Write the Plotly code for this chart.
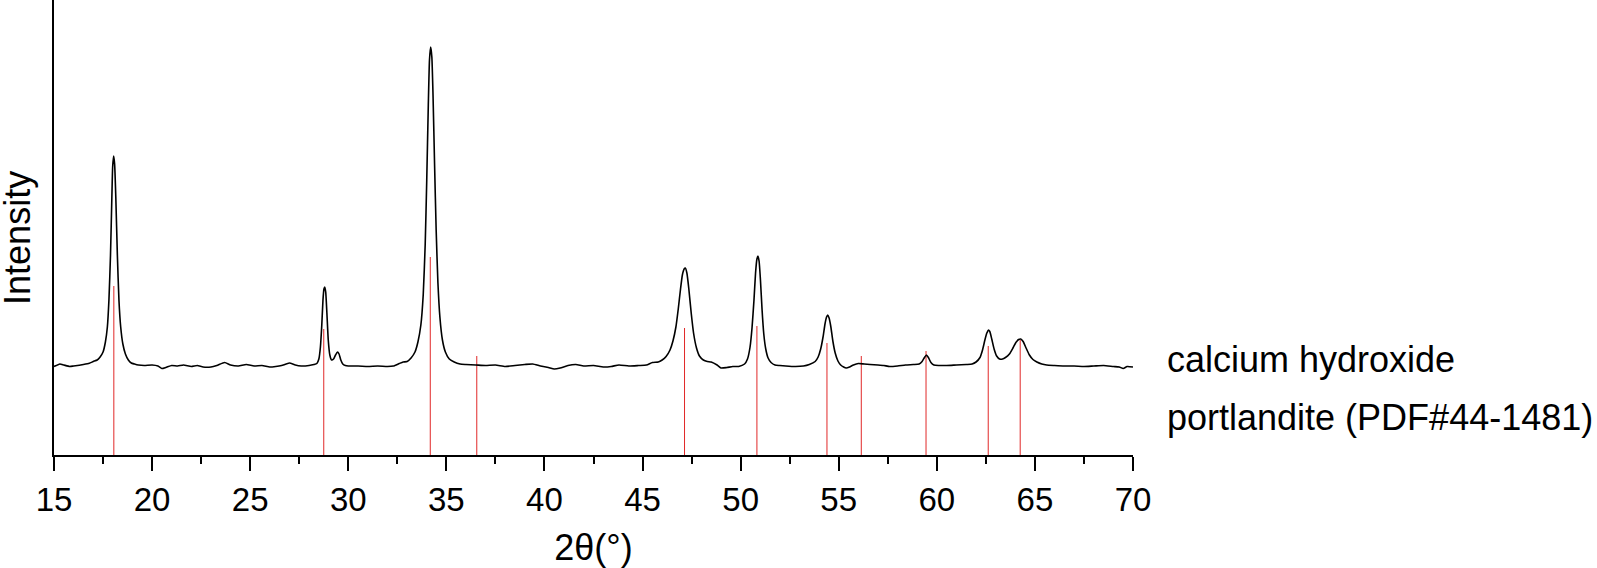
import plotly.graph_objects as go

# ---- measured XRD pattern of calcium hydroxide (values read from the picture) ----
# region by region: 2-theta positions and intensities (a.u.)
x_a = [15.0, 15.3, 15.5, 15.8, 16.0, 16.5, 16.8, 17.0, 17.2]
y_a = [88.5, 91, 90, 88.5, 89, 90.5, 91.7, 93.5, 95]
x_p18 = [17.35, 17.5, 17.62, 17.72, 17.8, 17.88, 17.95, 17.99, 18.04, 18.09, 18.15, 18.23,
         18.31, 18.4, 18.51, 18.64, 18.79, 18.94, 19.1]
y_p18 = [98, 103, 113, 128, 155, 200, 258, 288, 299, 291, 258, 200,
         155, 128, 111, 101, 95, 92, 91]
x_b = [19.3, 19.6, 20.0, 20.3, 20.5, 20.7, 21.0, 21.3, 21.6, 22.0, 22.3, 22.6, 23.0, 23.3,
       23.7, 24.0, 24.4, 24.8, 25.2, 25.6, 26.0, 26.3, 26.6, 27.0, 27.3, 27.6, 28.0, 28.25]
y_b = [90, 89.5, 90, 89, 86.5, 87.5, 89.5, 89, 90, 88.5, 89.5, 88, 88, 89.5,
       92.5, 90, 89, 90.5, 89, 89.5, 88, 88.5, 89.5, 92, 90, 89, 89.5, 90.5]
x_p29 = [28.4, 28.5, 28.58, 28.65, 28.71, 28.76, 28.8, 28.85, 28.91, 28.98, 29.06, 29.15,
         29.25, 29.35, 29.45, 29.53, 29.62, 29.72, 29.85]
y_p29 = [91.5, 96, 108, 130, 155, 166, 168, 163, 142, 115, 100, 95,
         96, 100, 103, 101, 95, 91, 89.5]
x_c = [30.0, 30.5, 31.0, 31.5, 32.0, 32.3, 32.6, 32.8, 33.0]
y_c = [89, 89, 88.5, 89, 88.5, 89, 91.5, 93, 93.5]
x_p34 = [33.2, 33.4, 33.55, 33.7, 33.82, 33.92, 34.0, 34.08, 34.14, 34.2, 34.26, 34.32,
         34.4, 34.48, 34.57, 34.67, 34.8, 34.95, 35.15, 35.4, 35.7]
y_p34 = [97, 103, 113, 130, 160, 210, 275, 350, 395, 408, 398, 360,
         290, 225, 172, 138, 115, 103, 96, 93, 91]
x_d = [36.0, 36.5, 37.0, 37.5, 38.0, 38.5, 39.0, 39.4, 39.8, 40.2, 40.5, 40.8, 41.2, 41.6,
       42.0, 42.5, 43.0, 43.4, 43.8, 44.3, 44.8, 45.2, 45.5]
y_d = [90.5, 90, 89.5, 90, 88.5, 89.5, 90.5, 91, 89, 87.5, 86, 87, 89.5, 90.5,
       89, 89.5, 88, 88.5, 90, 89, 89.5, 90, 92.5]
x_p47 = [45.8, 46.0, 46.2, 46.4, 46.55, 46.7, 46.82, 46.93, 47.03, 47.12, 47.18, 47.26,
         47.36, 47.48, 47.6, 47.75, 47.9, 48.1, 48.3, 48.5]
y_p47 = [93, 95, 98.5, 105, 114, 128, 146, 165, 180, 186, 187, 182,
         166, 142, 122, 107, 99, 95, 93.5, 93]
x_e = [48.8, 49.0, 49.3, 49.6, 49.9]
y_e = [90, 87, 87.5, 88.5, 88.5]
x_p51 = [50.2, 50.35, 50.48, 50.58, 50.68, 50.76, 50.83, 50.88, 50.94, 51.01, 51.09, 51.18,
         51.28, 51.4, 51.55, 51.75]
y_p51 = [91, 96, 108, 127, 155, 182, 196, 199, 194, 175, 146, 121,
         106, 97, 92.5, 90]
x_f = [52.0, 52.3, 52.8, 53.2, 53.5]
y_f = [89.5, 89, 88.5, 89, 90.5]
x_p54 = [53.8, 53.95, 54.08, 54.2, 54.3, 54.38, 54.44, 54.51, 54.6, 54.7, 54.82, 54.96,
         55.1, 55.25, 55.38]
y_p54 = [93.5, 98, 106, 118, 131, 138, 140, 137, 128, 114, 102, 94,
         90, 88, 87]
x_g = [55.55, 55.75, 56.0, 56.3, 56.6, 57.0, 57.3, 57.6, 58.0, 58.4, 58.8]
y_g = [88, 90, 91.5, 91, 90.5, 90, 89.5, 88.5, 89, 90, 90.5]
x_p59 = [59.1, 59.25, 59.37, 59.47, 59.57, 59.7, 59.85]
y_p59 = [91, 93.5, 97.5, 100, 97.5, 92.5, 90]
x_h = [60.1, 60.5, 61.0, 61.5]
y_h = [89.5, 89.5, 90, 90.5]
x_p63 = [61.8, 62.0, 62.2, 62.33, 62.45, 62.55, 62.63, 62.7, 62.8, 62.92, 63.05, 63.2,
         63.35, 63.5, 63.7, 63.88, 64.03, 64.17, 64.28, 64.4, 64.55, 64.72, 64.9, 65.1, 65.35]
y_p63 = [91, 93, 97.5, 105, 115, 122, 125, 123.5, 116, 106, 99, 96,
         96, 97.5, 101, 107, 112.5, 115.5, 116, 113.5, 107, 100, 95.5, 93, 91]
x_i = [65.6, 66.0, 66.5, 67.0, 67.5, 68.0, 68.5, 69.0, 69.3, 69.5, 69.7, 70.0]
y_i = [90, 89.5, 89, 89, 88.5, 89, 89.5, 88.5, 88, 86.5, 88.5, 88]

two_theta = (x_a + x_p18 + x_b + x_p29 + x_c + x_p34 + x_d + x_p47 + x_e + x_p51 + x_f
             + x_p54 + x_g + x_p59 + x_h + x_p63 + x_i)
intensity = (y_a + y_p18 + y_b + y_p29 + y_c + y_p34 + y_d + y_p47 + y_e + y_p51 + y_f
             + y_p54 + y_g + y_p59 + y_h + y_p63 + y_i)
assert len(two_theta) == len(intensity)

# ---- reference pattern: portlandite (PDF#44-1481) stick positions / heights ----
ref_positions = [18.05, 28.75, 34.18, 36.55, 47.14, 50.83, 54.40, 56.15, 59.45, 62.62, 64.25]
ref_heights = [169, 126, 198, 99, 127, 129, 112, 99, 104, 109, 115]

x_ticks = [15, 20, 25, 30, 35, 40, 45, 50, 55, 60, 65, 70]
labels = ["calcium hydroxide", "portlandite (PDF#44-1481)"]
label_levels = [96, 38]

FONT = "Liberation Sans, Arial, sans-serif"

stick_x, stick_y = [], []
for p, h in zip(ref_positions, ref_heights):
    stick_x += [p, p, None]
    stick_y += [0, h, None]

fig = go.Figure()
fig.add_trace(go.Scatter(
    x=stick_x, y=stick_y, mode="lines",
    line=dict(color="rgb(225,40,40)", width=1),
    hoverinfo="skip", showlegend=False,
))
fig.add_trace(go.Scatter(
    x=two_theta, y=intensity, mode="lines",
    line=dict(color="black", width=1.6, shape="spline", smoothing=0.5),
    showlegend=False,
))

for txt, lvl in zip(labels, label_levels):
    fig.add_annotation(
        text=txt, xref="paper", x=1.0297, xanchor="left",
        yref="y", y=lvl, yanchor="middle", showarrow=False,
        font=dict(family=FONT, size=36, color="black"),
    )

# y-axis title
fig.add_annotation(
    text="Intensity", textangle=-90, xref="paper", x=-0.0334, xanchor="center",
    yref="paper", y=0.477, yanchor="middle", showarrow=False,
    font=dict(family=FONT, size=36, color="black"),
)

fig.update_layout(
    width=1597, height=568,
    margin=dict(l=54, r=464, t=0, b=113),
    paper_bgcolor="white", plot_bgcolor="white",
    font=dict(family=FONT, color="black"),
)
fig.update_xaxes(
    range=[15, 70], tickvals=x_ticks, ticks="outside", ticklen=14, tickwidth=2,
    tickcolor="black", showline=True, linewidth=2, linecolor="black",
    showgrid=False, zeroline=False,
    tickfont=dict(family=FONT, size=33, color="black"),
    minor=dict(dtick=2.5, tick0=15, ticks="outside", ticklen=7, tickwidth=2,
               tickcolor="black", showgrid=False),
    title=dict(text="2θ(°)", font=dict(family=FONT, size=36, color="black"), standoff=22),
)
fig.update_yaxes(
    range=[0, 455], showticklabels=False, ticks="", showline=True, linewidth=2,
    linecolor="black", showgrid=False, zeroline=False,
)

fig.write_html(
    "out.html",
    config={"displayModeBar": False},
    post_script="document.body.style.margin='0';document.body.style.overflow='hidden';",
)
